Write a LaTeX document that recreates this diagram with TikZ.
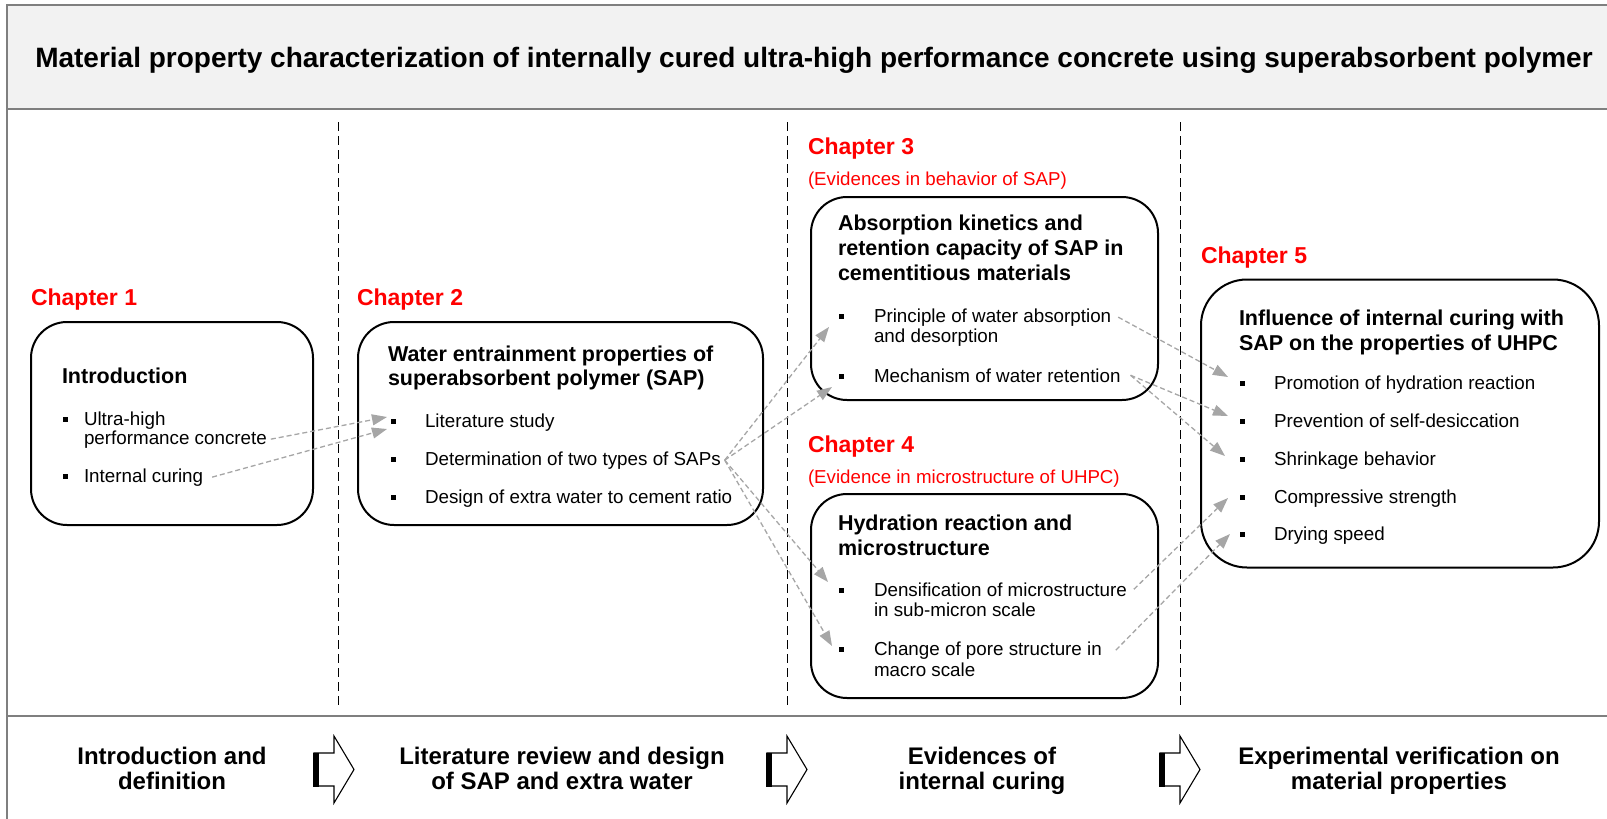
\documentclass[tikz,border=0pt]{standalone}
\usepackage{fontspec}
\setmainfont{Liberation Sans}
\usetikzlibrary{arrows.meta}
\definecolor{framegray}{HTML}{7F7F7F}
\definecolor{bandfill}{HTML}{F2F2F2}
\definecolor{linkgray}{HTML}{A6A6A6}
\definecolor{chapred}{HTML}{FF0000}
\begin{document}
\begin{tikzpicture}[x=1pt,y=-1pt,
  every node/.style={inner sep=0pt, outer sep=0pt},
  maintitle/.style={font=\bfseries\fontsize{28}{32}\selectfont},
  chap/.style={anchor=base west, text=chapred, font=\bfseries\fontsize{23}{27}\selectfont},
  chapsub/.style={anchor=base west, text=chapred, font=\fontsize{18.7}{22}\selectfont},
  btitle/.style={anchor=base west, font=\bfseries\fontsize{21.5}{25}\selectfont},
  item/.style={anchor=base west, font=\fontsize{18.8}{22}\selectfont},
  bul/.style={fill=black, minimum size=5pt, inner sep=0pt},
  box/.style={draw=black, line width=2pt, rounded corners=36pt},
  divider/.style={draw=black, line width=1pt, dash pattern=on 9pt off 5pt},
  link/.style={draw=linkgray, line width=1.3pt, dash pattern=on 5pt off 3pt, -{Triangle[length=15pt,width=11pt,fill=linkgray]}},
  phase/.style={anchor=base, font=\bfseries\fontsize{24}{22.5}\selectfont},
  flowarrow/.style={draw=black, fill=white, line width=1.1pt, line join=miter}
]
\useasboundingbox (0,0) rectangle (1607,819);
% frame and title band
\fill[bandfill] (7,5) rectangle (1607,109);
\draw[framegray, line width=2pt] (1608,5) -- (7,5) -- (7,820);
\draw[framegray, line width=2pt] (7,109) -- (1608,109);
\draw[framegray, line width=2pt] (7,716) -- (1608,716);
\node[maintitle] (mt) at (814,60) {Material property characterization of internally cured ultra-high performance concrete using superabsorbent polymer};

% dividers
\draw[divider] (338,122) -- (338,707);
\draw[divider] (787,122) -- (787,707);
\draw[divider] (1180,122) -- (1180,707);

% chapter labels
\node[chap] (ch1) at (31,305) {Chapter 1};
\node[chap] (ch2) at (357,305) {Chapter 2};
\node[chap] (ch3) at (808,154) {Chapter 3};
\node[chapsub] (ch3s) at (808,185) {(Evidences in behavior of SAP)};
\node[chap] (ch4) at (808,452) {Chapter 4};
\node[chapsub] (ch4s) at (808,483) {(Evidence in microstructure of UHPC)};
\node[chap] (ch5) at (1201,263) {Chapter 5};

% boxes
\node[box, minimum width=282pt, minimum height=203pt] (box1) at (172,423.5) {};
\node[box, minimum width=405pt, minimum height=203pt] (box2) at (560.5,423.5) {};
\node[box, minimum width=347pt, minimum height=203pt] (box3) at (984.5,298.5) {};
\node[box, minimum width=347pt, minimum height=204pt] (box4) at (984.5,596) {};
\node[box, rounded corners=46pt, minimum width=398pt, minimum height=288pt] (box5) at (1400,423.5) {};

% box 1
\node[btitle] (b1t) at (62,383) {Introduction};
\node[bul] (b1pa) at (65,419) {};
\node[item] (b1a1) at (84,425) {Ultra-high};
\node[item] (b1a2) at (84,444) {performance concrete};
\node[bul] (b1pb) at (65,476) {};
\node[item] (b1b) at (84,482) {Internal curing};

% box 2
\node[btitle] (b2t1) at (388,361) {Water entrainment properties of};
\node[btitle] (b2t2) at (388,385) {superabsorbent polymer (SAP)};
\node[bul] (b2pa) at (393,421) {};
\node[item] (b2a) at (425,427) {Literature study};
\node[bul] (b2pb) at (393,459) {};
\node[item] (b2b) at (425,465) {Determination of two types of SAPs};
\node[bul] (b2pc) at (393,497) {};
\node[item] (b2c) at (425,503) {Design of extra water to cement ratio};

% box 3
\node[btitle] (b3t1) at (838,230) {Absorption kinetics and};
\node[btitle] (b3t2) at (838,255) {retention capacity of SAP in};
\node[btitle] (b3t3) at (838,280) {cementitious materials};
\node[bul] (b3pa) at (841,316) {};
\node[item] (b3a1) at (874,322) {Principle of water absorption};
\node[item] (b3a2) at (874,342) {and desorption};
\node[bul] (b3pb) at (841,376) {};
\node[item] (b3b) at (874,382) {Mechanism of water retention};

% box 4
\node[btitle] (b4t1) at (838,530) {Hydration reaction and};
\node[btitle] (b4t2) at (838,555) {microstructure};
\node[bul] (b4pa) at (841,590) {};
\node[item] (b4a1) at (874,596) {Densification of microstructure};
\node[item] (b4a2) at (874,616) {in sub-micron scale};
\node[bul] (b4pb) at (841,649) {};
\node[item] (b4b1) at (874,655) {Change of pore structure in};
\node[item] (b4b2) at (874,676) {macro scale};

% box 5
\node[btitle] (b5t1) at (1239,325) {Influence of internal curing with};
\node[btitle] (b5t2) at (1239,350) {SAP on the properties of UHPC};
\node[bul] (b5pa) at (1242,383) {};
\node[item] (b5a) at (1274,389) {Promotion of hydration reaction};
\node[bul] (b5pb) at (1242,421) {};
\node[item] (b5b) at (1274,427) {Prevention of self-desiccation};
\node[bul] (b5pc) at (1242,459) {};
\node[item] (b5c) at (1274,465) {Shrinkage behavior};
\node[bul] (b5pd) at (1242,497) {};
\node[item] (b5d) at (1274,503) {Compressive strength};
\node[bul] (b5pe) at (1242,534) {};
\node[item] (b5e) at (1274,540) {Drying speed};

% connector targets
\coordinate (t1) at (387,417);
\coordinate (t2) at (387,429);
\coordinate (t3) at (829,327);
\coordinate (t4) at (832,387);
\coordinate (t5) at (828,582);
\coordinate (t6) at (832,646);
\coordinate (t7) at (1228,377);
\coordinate (t8) at (1228,416);
\coordinate (t9) at (1225,456);
\coordinate (t10) at (1228,498);
\coordinate (t11) at (1230,534);

\draw[link] ([xshift=4pt]b1a2.east) -- (t1);
\draw[link] ([xshift=9pt]b1b.east) -- (t2);
\draw[link] ([xshift=4pt]b2b.east) -- (t3);
\draw[link] ([xshift=4pt]b2b.east) -- (t4);
\draw[link] ([xshift=4pt]b2b.east) -- (t5);
\draw[link] ([xshift=4pt]b2b.east) -- (t6);
\draw[link] ([xshift=7pt]b3a1.east) -- (t7);
\draw[link] ([xshift=10pt]b3b.east) -- (t8);
\draw[link] ([xshift=10pt]b3b.east) -- (t9);
\draw[link] ([xshift=7pt]b4a1.east) -- (t10);
\draw[link] ([xshift=14pt]b4b1.east) -- (t11);

% bottom phase labels
\node[phase] (p1a) at (172,764) {Introduction and};
\node[phase] (p1b) at (172,789) {definition};
\node[phase] (p2a) at (562,764) {Literature review and design};
\node[phase] (p2b) at (562,789) {of SAP and extra water};
\node[phase] (p3a) at (982,764) {Evidences of};
\node[phase] (p3b) at (982,789) {internal curing};
\node[phase] (p4a) at (1399,764) {Experimental verification on};
\node[phase] (p4b) at (1399,789) {material properties};

% block arrows
\foreach \x in {314,767,1160}{
  \draw[flowarrow] (\x,753) -- (\x+20,753) -- (\x+20,736) -- (\x+40,769.5) -- (\x+20,803) -- (\x+20,786) -- (\x,786) -- cycle;
  \fill[black] (\x-1,752.5) rectangle (\x+5,786.5);
}
\end{tikzpicture}
\end{document}
